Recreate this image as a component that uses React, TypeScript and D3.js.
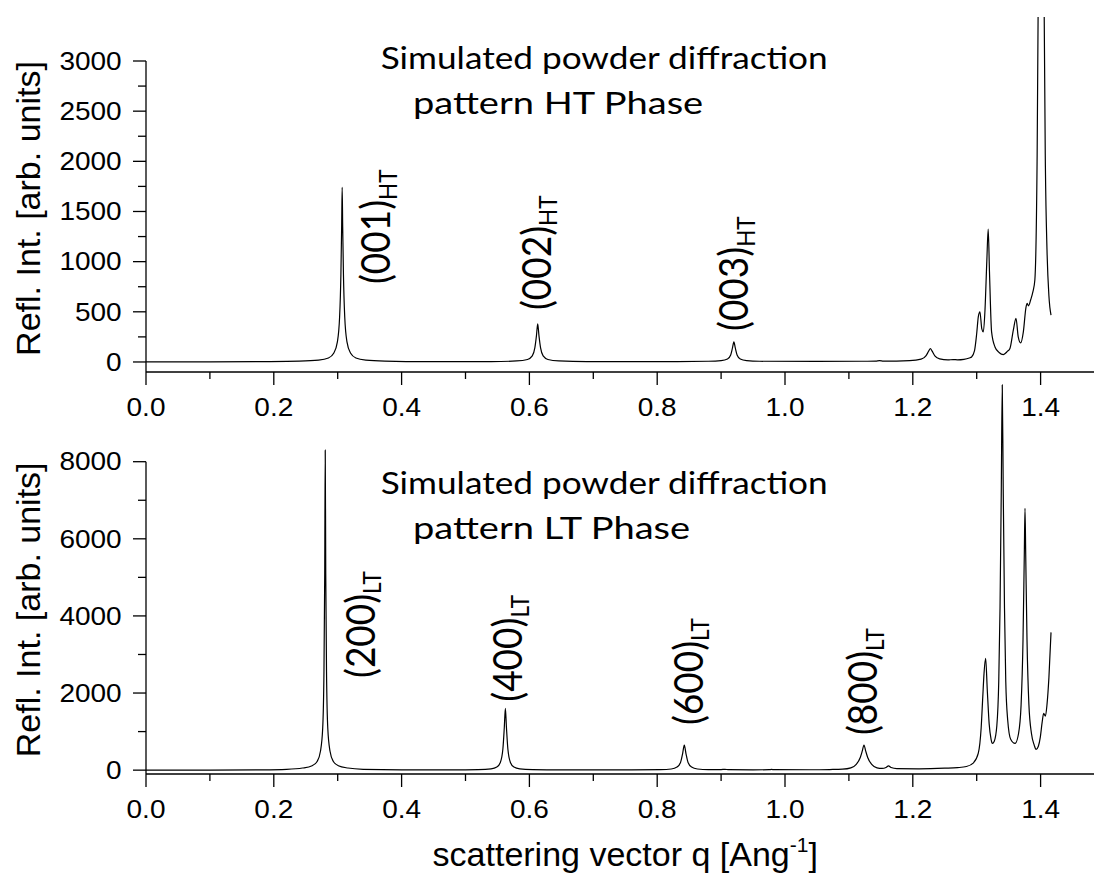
import React from 'react';
import * as d3 from 'd3';

// ---------- data ----------
const qMajorTicks = [0, 0.2, 0.4, 0.6, 0.8, 1.0, 1.2, 1.4];
const qTickLabels = ['0.0', '0.2', '0.4', '0.6', '0.8', '1.0', '1.2', '1.4'];
const qMinorTicks = [0.1, 0.3, 0.5, 0.7, 0.9, 1.1, 1.3, 1.5];

const htMajorTicks = [0, 500, 1000, 1500, 2000, 2500, 3000];
const htMinorTicks = [250, 750, 1250, 1750, 2250, 2750];
const ltMajorTicks = [0, 2000, 4000, 6000, 8000];
const ltMinorTicks = [1000, 3000, 5000, 7000];

// HT phase simulated pattern (q, intensity)
const htQ = [
  0.0, 0.1, 0.18, 0.24, 0.27, 0.2855, 0.294, 0.2995, 0.303, 0.305, 0.3062, 0.307, 0.3078, 0.309, 0.311,
  0.3145, 0.32, 0.3285, 0.344, 0.374, 0.44, 0.54, 0.58, 0.597, 0.6045, 0.6085, 0.611, 0.613, 0.615, 0.6175,
  0.6215, 0.629, 0.646, 0.69, 0.83, 0.88, 0.9, 0.91, 0.915, 0.9178, 0.92, 0.9222, 0.925, 0.93, 0.94, 0.96,
  1.05, 1.12, 1.142, 1.148, 1.154, 1.195, 1.213, 1.2205, 1.225, 1.2275, 1.23, 1.2345, 1.242, 1.255, 1.263,
  1.27, 1.28, 1.2885, 1.292, 1.2965, 1.3, 1.3025, 1.305, 1.308, 1.3104, 1.313, 1.3158, 1.318, 1.32, 1.3233,
  1.3286, 1.335, 1.3417, 1.348, 1.352, 1.3573, 1.3615, 1.365, 1.3688, 1.373, 1.377, 1.379, 1.381, 1.3845,
  1.388, 1.391, 1.3945, 1.397, 1.399, 1.401, 1.403, 1.405, 1.4075, 1.41, 1.413, 1.4163,
];
const htI = [
  0, 0, 3, 8, 18, 40, 90, 200, 450, 870, 1350, 1740, 1350, 870, 450,
  200, 90, 40, 18, 8, 3, 4, 10, 25, 60, 140, 260, 380, 260, 140,
  60, 25, 10, 4, 4, 7, 14, 30, 70, 140, 200, 140, 70, 30, 14, 7,
  5, 7, 9, 14, 9, 14, 28, 60, 110, 134, 110, 60, 30, 20, 24,
  21, 26, 40, 50, 110, 284, 450, 500, 330, 300, 520, 1000, 1324, 900, 300,
  150, 95, 74, 105, 134, 317, 434, 250, 190, 300, 540, 584, 560, 620,
  700, 817, 2000, 4300, 8000, 11000, 7700, 4000, 1950, 1120, 660, 467,
];

// LT phase simulated pattern (q, intensity)
const ltQ = [
  0.0, 0.1, 0.18, 0.22, 0.245, 0.26, 0.268, 0.273, 0.2765, 0.2785, 0.2797, 0.2805, 0.2813, 0.2825, 0.2845,
  0.288, 0.293, 0.301, 0.316, 0.34, 0.4, 0.48, 0.52, 0.54, 0.549, 0.5545, 0.5585, 0.5607, 0.5624, 0.5641,
  0.5663, 0.5703, 0.5758, 0.585, 0.605, 0.65, 0.76, 0.805, 0.822, 0.831, 0.8365, 0.8398, 0.8424, 0.845,
  0.8483, 0.8538, 0.863, 0.88, 0.9, 0.906, 0.912, 0.95, 0.975, 0.979, 0.983, 1.04, 1.07, 1.09, 1.103,
  1.1115, 1.1178, 1.121, 1.1236, 1.1262, 1.1294, 1.1357, 1.144, 1.152, 1.158, 1.162, 1.166, 1.175, 1.21,
  1.25, 1.27, 1.284, 1.295, 1.3025, 1.307, 1.3095, 1.3115, 1.314, 1.3165, 1.3195, 1.3225, 1.3245, 1.3275,
  1.3315, 1.3345, 1.3365, 1.3385, 1.34, 1.3415, 1.3435, 1.3455, 1.3485, 1.3532, 1.36, 1.3655, 1.3695,
  1.3725, 1.3745, 1.3756, 1.3767, 1.3787, 1.3817, 1.3857, 1.39, 1.393, 1.3965, 1.3995, 1.4025, 1.4048,
  1.4075, 1.41, 1.413, 1.4163,
];
const ltI = [
  0, 2, 9, 22, 55, 115, 230, 490, 1080, 2550, 5100, 8300, 5100, 2550, 1080,
  490, 230, 115, 55, 22, 9, 8, 15, 35, 80, 200, 550, 1100, 1600, 1100,
  550, 200, 80, 35, 15, 6, 6, 12, 30, 80, 200, 430, 649, 430,
  200, 80, 30, 12, 14, 22, 12, 8, 12, 18, 12, 10, 16, 25, 60,
  150, 330, 500, 649, 500, 330, 150, 60, 45, 70, 112, 70, 40, 35,
  50, 65, 95, 190, 440, 1100, 1900, 2517, 2898, 2100, 1200, 800, 692, 750,
  1150, 2300, 4200, 7300, 9990, 7300, 4200, 2300, 1300, 800, 692, 950, 1700,
  3400, 5600, 6791, 5600, 3400, 1700, 950, 650, 537, 620, 850, 1250, 1471,
  1400, 1700, 2400, 3573,
];

// reflection labels: text, subscript, anchor (q, intensity)
const htLabelText = ['(001)', '(002)', '(003)'];
const htLabelQ = [0.3818, 0.6333, 0.9421];
const htLabelI = [777, 518, 309];
const ltLabelText = ['(200)', '(400)', '(600)', '(800)'];
const ltLabelQ = [0.3576, 0.5892, 0.8709, 1.1447];
const ltLabelI = [2390, 1775, 1171, 911];

const htTitle = ['Simulated powder diffraction', 'pattern HT Phase'];
const ltTitle = ['Simulated powder diffraction', 'pattern LT Phase'];
const yAxisTitle = 'Refl. Int. [arb. units]';
const xAxisTitle = 'scattering vector q [Ang';
const xAxisSup = '-1';

// ---------- styling ----------
const TICK_FONT = "'Liberation Sans', Arial, Helvetica, sans-serif";
const TITLE_FONT = "Lato, 'Open Sans', sans-serif";
const STRETCH = 1.12;

const xScale = d3.scaleLinear().domain([0, 1.5]).range([146, 1104.5]);

type PanelProps = {
  id: string;
  yDomain: [number, number];
  yRange: [number, number];
  major: number[];
  minor: number[];
  q: number[];
  I: number[];
  labelText: string[];
  labelQ: number[];
  labelI: number[];
  sub: string;
  title: string[];
  titleBase: number;
  clipTop: number;
};

function Panel(p: PanelProps) {
  const y = d3.scaleLinear().domain(p.yDomain).range(p.yRange);
  const y0 = p.yRange[0];
  const xLeft = xScale(0);
  const pts: [number, number][] = p.q.map((v, i) => [v, p.I[i]]);
  const line = d3
    .line<[number, number]>()
    .x((d) => xScale(d[0]))
    .y((d) => y(d[1]))
    .curve(d3.curveMonotoneX);
  const yTop = y(p.major[p.major.length - 1]);
  const yMid = (yTop + y0) / 2 - 8;
  return (
    <g>
      <defs>
        <clipPath id={p.id}>
          <rect x={xLeft} y={p.clipTop} width={1000} height={y0 - p.clipTop + 20} />
        </clipPath>
      </defs>
      {/* data */}
      <path d={line(pts) || ''} fill="none" stroke="#000" strokeWidth={1.2} clipPath={`url(#${p.id})`} />
      {/* x axis */}
      <line x1={xLeft} x2={xScale(1.5)} y1={y0} y2={y0} stroke="#000" strokeWidth={1.3} />
      {qMajorTicks.map((t) => (
        <line key={'xm' + t} x1={xScale(t)} x2={xScale(t)} y1={y0} y2={y0 + 13} stroke="#000" strokeWidth={1.3} />
      ))}
      {qMinorTicks.map((t) => (
        <line key={'xn' + t} x1={xScale(t)} x2={xScale(t)} y1={y0} y2={y0 + 7} stroke="#000" strokeWidth={1.3} />
      ))}
      {qMajorTicks.map((t, i) => (
        <text
          key={'xl' + t}
          transform={`translate(${xScale(t)},${y0 + 44}) scale(${STRETCH},1)`}
          textAnchor="middle"
          fontFamily={TICK_FONT}
          fontSize={25}
          fill="#000"
        >
          {qTickLabels[i]}
        </text>
      ))}
      {/* y axis */}
      <line x1={xLeft} x2={xLeft} y1={yTop} y2={y0} stroke="#000" strokeWidth={1.3} />
      {p.major.map((t) => (
        <line key={'ym' + t} x1={xLeft - 13} x2={xLeft} y1={y(t)} y2={y(t)} stroke="#000" strokeWidth={1.3} />
      ))}
      {p.minor.map((t) => (
        <line key={'yn' + t} x1={xLeft - 8} x2={xLeft} y1={y(t)} y2={y(t)} stroke="#000" strokeWidth={1.3} />
      ))}
      {p.major.map((t) => (
        <text
          key={'yl' + t}
          transform={`translate(${xLeft - 24.3},${y(t) + 8.7}) scale(${STRETCH},1)`}
          textAnchor="end"
          fontFamily={TICK_FONT}
          fontSize={25}
          fill="#000"
        >
          {String(t)}
        </text>
      ))}
      <text
        transform={`translate(39.5,${yMid}) rotate(-90)`}
        textAnchor="middle"
        fontFamily={TICK_FONT}
        fontSize={34}
        fill="#000"
      >
        {yAxisTitle}
      </text>
      {/* title */}
      <text
        x={380.7}
        y={p.titleBase}
        fontFamily={TITLE_FONT}
        fontSize={31.7}
        textLength={447}
        lengthAdjust="spacingAndGlyphs"
        fill="#000"
      >
        {p.title[0]}
      </text>
      <text
        transform={`translate(413,${p.titleBase + 44.7}) scale(1.2,1)`}
        fontFamily={TITLE_FONT}
        fontSize={31.7}
        fill="#000"
      >
        {p.title[1]}
      </text>
      {/* reflection labels */}
      {p.labelText.map((t, i) => (
        <text
          key={'pl' + i}
          transform={`translate(${xScale(p.labelQ[i])},${y(p.labelI[i])}) scale(${STRETCH},1) rotate(-90)`}
          fontFamily={TITLE_FONT}
          fontSize={37}
          fill="#000"
        >
          {t}
          <tspan fontSize={22.5} dy={6}>
            {p.sub}
          </tspan>
        </text>
      ))}
    </g>
  );
}

export default function App() {
  return (
    <svg
      width={1094}
      height={884}
      viewBox="0 0 1094 884"
      style={{ position: 'absolute', left: 0, top: 0, background: '#fff' }}
    >
      <rect x={0} y={0} width={1094} height={884} fill="#fff" />
      <Panel
        id="clipHT"
        yDomain={[-100, 3000]}
        yRange={[372, 61]}
        major={htMajorTicks}
        minor={htMinorTicks}
        q={htQ}
        I={htI}
        labelText={htLabelText}
        labelQ={htLabelQ}
        labelI={htLabelI}
        sub="HT"
        title={htTitle}
        titleBase={69.3}
        clipTop={17}
      />
      <Panel
        id="clipLT"
        yDomain={[-100, 8000]}
        yRange={[774, 461.7]}
        major={ltMajorTicks}
        minor={ltMinorTicks}
        q={ltQ}
        I={ltI}
        labelText={ltLabelText}
        labelQ={ltLabelQ}
        labelI={ltLabelI}
        sub="LT"
        title={ltTitle}
        titleBase={494}
        clipTop={0}
      />
      <text
        x={(xScale(0) + xScale(1.5)) / 2}
        y={866}
        textAnchor="middle"
        fontFamily={TICK_FONT}
        fontSize={34}
        fill="#000"
      >
        <tspan>{xAxisTitle}</tspan>
        <tspan fontSize={21} dy={-14}>
          {xAxisSup}
        </tspan>
        <tspan dy={14}>]</tspan>
      </text>
    </svg>
  );
}
